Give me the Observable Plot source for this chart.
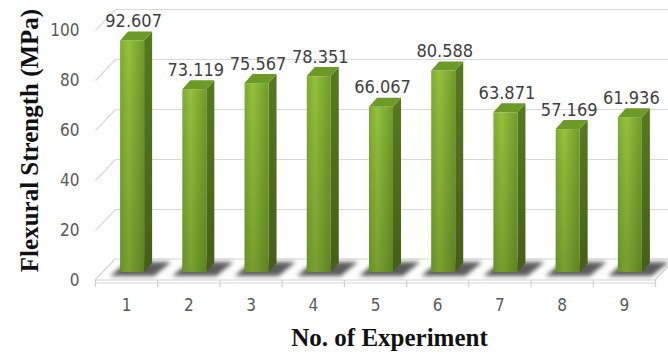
<!DOCTYPE html>
<html>
<head>
<meta charset="utf-8">
<script src="https://cdn.jsdelivr.net/npm/d3@7"></script>
<script src="https://cdn.jsdelivr.net/npm/@observablehq/plot@0.6"></script>
<style>
  html, body { margin: 0; padding: 0; background: #fff; }
</style>
</head>
<body>
<div id="chart"></div>
<script>
// Flexural strength for each experiment run
const experiments = [1, 2, 3, 4, 5, 6, 7, 8, 9];
const strength = [92.607, 73.119, 75.567, 78.351, 66.067, 80.588, 63.871, 57.169, 61.936];
const yTicks = [0, 20, 40, 60, 80, 100];
const xTitle = "No. of Experiment";
const yTitle = "Flexural Strength (MPa)";

const W = 668, H = 356;
const margin = {left: 95, right: 13, top: 30, bottom: 76};
const xDomain = [0.5, 9.5];
const yDomain = [0, 100];

// pixel sizes of one data unit, used to express the 3-D depth offsets in data units
const pxX = (W - margin.left - margin.right) / (xDomain[1] - xDomain[0]);
const pxY = (H - margin.top - margin.bottom) / (yDomain[1] - yDomain[0]);

// oblique projection: floor/wall depth and bar geometry
const wallDX = 20 / pxX, wallDY = 21 / pxY;     // back wall offset
const barShiftX = 6, barShiftY = -8;            // bars stand inside the floor (px)
const halfW = 12 / pxX;                          // half of a bar's front width
const depthX = 8 / pxX, depthY = 9 / pxY;        // bar side / top depth

const bars = experiments.map((e, k) => ({e, v: strength[k]}));

const sidePts = bars.flatMap(d => [
  {e: d.e, x: d.e + halfW, y1: 0, y2: d.v},
  {e: d.e, x: d.e + halfW + depthX, y1: depthY, y2: d.v + depthY}
]);
const topPts = bars.flatMap(d => [
  {e: d.e, y: d.v, x1: d.e - halfW, x2: d.e + halfW},
  {e: d.e, y: d.v + depthY, x1: d.e - halfW + depthX, x2: d.e + halfW + depthX}
]);
// shadow footprint on the floor, slanted like the floor itself
const shadowPts = bars.flatMap(d => [
  {e: d.e, y: 1.6, x1: d.e - 16 / pxX, x2: d.e + 28 / pxX},
  {e: d.e, y: 7.2, x1: d.e - 16 / pxX + wallDX * 0.85, x2: d.e + 28 / pxX + wallDX * 0.85}
]);
const floorPts = [
  {y: 0, x1: xDomain[0], x2: xDomain[1]},
  {y: wallDY, x1: xDomain[0] + wallDX, x2: xDomain[1] + wallDX}
];
const bounds = d3.range(xDomain[0], xDomain[1] + 0.001, 1);

const fmt = d3.format(".3f");
const serif = "'Liberation Serif', 'Times New Roman', serif";

const chart = Plot.plot({
  width: W,
  height: H,
  marginLeft: margin.left,
  marginRight: margin.right,
  marginTop: margin.top,
  marginBottom: margin.bottom,
  style: {
    fontFamily: "'Liberation Sans Narrow', 'DejaVu Sans Condensed', 'Arial Narrow', sans-serif",
    fontSize: "17px",
    background: "#fff",
    overflow: "hidden"
  },
  x: {type: "linear", domain: xDomain, axis: null},
  y: {type: "linear", domain: yDomain, axis: null},
  marks: [
    // back wall gridlines
    Plot.ruleY(yTicks, {y: d => d + wallDY, x1: xDomain[0] + wallDX, x2: xDomain[1] + wallDX + 1, stroke: "#d9d9d9", strokeWidth: 1.2}),
    // side wall gridlines
    Plot.link(yTicks, {x1: xDomain[0], y1: d => d, x2: xDomain[0] + wallDX, y2: d => d + wallDY, stroke: "#d9d9d9", strokeWidth: 1.2}),
    // floor
    Plot.areaX(floorPts, {y: "y", x1: "x1", x2: "x2", fill: "#fdfdfd", stroke: "#d6d6d6", strokeWidth: 1.2}),
    Plot.ruleY([0], {x1: xDomain[0], x2: xDomain[1], dy: 2.5, stroke: "#e4e4e4", strokeWidth: 1.5}),
    // category ticks under the floor
    Plot.ruleX(bounds, {y1: 0, y2: -7 / pxY, stroke: "#d0d0d0", strokeWidth: 1.2}),
    // soft shadows on the floor
    Plot.areaX(shadowPts, {y: "y", x1: "x1", x2: "x2", z: "e", fill: "#333", fillOpacity: 0.8, imageFilter: "blur(2.2px)"}),
    // bar side faces
    Plot.areaY(sidePts, {x: "x", y1: "y1", y2: "y2", z: "e", fill: "url(#barSide)", dx: barShiftX, dy: barShiftY}),
    // bar front faces
    Plot.rect(bars, {x1: d => d.e - halfW, x2: d => d.e + halfW, y1: 0, y2: "v", fill: "url(#barFront)", dx: barShiftX, dy: barShiftY}),
    Plot.rect(bars, {x1: d => d.e - halfW, x2: d => d.e + halfW, y1: 0, y2: "v", fill: "url(#barShade)", dx: barShiftX, dy: barShiftY}),
    // bar top faces
    Plot.areaX(topPts, {y: "y", x1: "x1", x2: "x2", z: "e", fill: "#6c9a27", dx: barShiftX, dy: barShiftY}),
    // value labels
    Plot.text(bars, {x: "e", y: "v", text: d => fmt(d.v), dx: 7, dy: -22, lineAnchor: "bottom", fill: "#404040", fontSize: 18}),
    // axes
    Plot.axisY(yTicks, {anchor: "left", tickSize: 0, tickPadding: 16, fill: "#595959", label: null}),
    Plot.axisX(experiments, {anchor: "bottom", tickSize: 0, tickPadding: 18, fill: "#595959", label: null, tickFormat: d => String(d)}),
    // titles
    Plot.text([xTitle], {frameAnchor: "bottom", dx: 14, dy: 65, lineAnchor: "bottom", textAnchor: "middle", fontFamily: serif, fontWeight: "bold", fontSize: 25, fill: "#111"}),
    Plot.text([yTitle], {frameAnchor: "left", rotate: -90, dx: -58, dy: -15, lineAnchor: "bottom", textAnchor: "middle", fontFamily: serif, fontWeight: "bold", fontSize: 25, fill: "#111"})
  ]
});

// gradients used by the bar faces
const defs = d3.select(chart).insert("defs", ":first-child");
const front = defs.append("linearGradient").attr("id", "barFront").attr("x1", 0).attr("x2", 1).attr("y1", 0).attr("y2", 0);
front.append("stop").attr("offset", "0%").attr("stop-color", "#7fab32");
front.append("stop").attr("offset", "35%").attr("stop-color", "#93c13d");
front.append("stop").attr("offset", "100%").attr("stop-color", "#6f9a2a");
const shade = defs.append("linearGradient").attr("id", "barShade").attr("x1", 0).attr("x2", 0).attr("y1", 0).attr("y2", 1);
shade.append("stop").attr("offset", "0%").attr("stop-color", "#2f4a0a").attr("stop-opacity", 0);
shade.append("stop").attr("offset", "100%").attr("stop-color", "#2f4a0a").attr("stop-opacity", 0.28);
const side = defs.append("linearGradient").attr("id", "barSide").attr("x1", 0).attr("x2", 0).attr("y1", 0).attr("y2", 1);
side.append("stop").attr("offset", "0%").attr("stop-color", "#567a1f");
side.append("stop").attr("offset", "100%").attr("stop-color", "#445f18");

document.getElementById("chart").appendChild(chart);
</script>
</body>
</html>
